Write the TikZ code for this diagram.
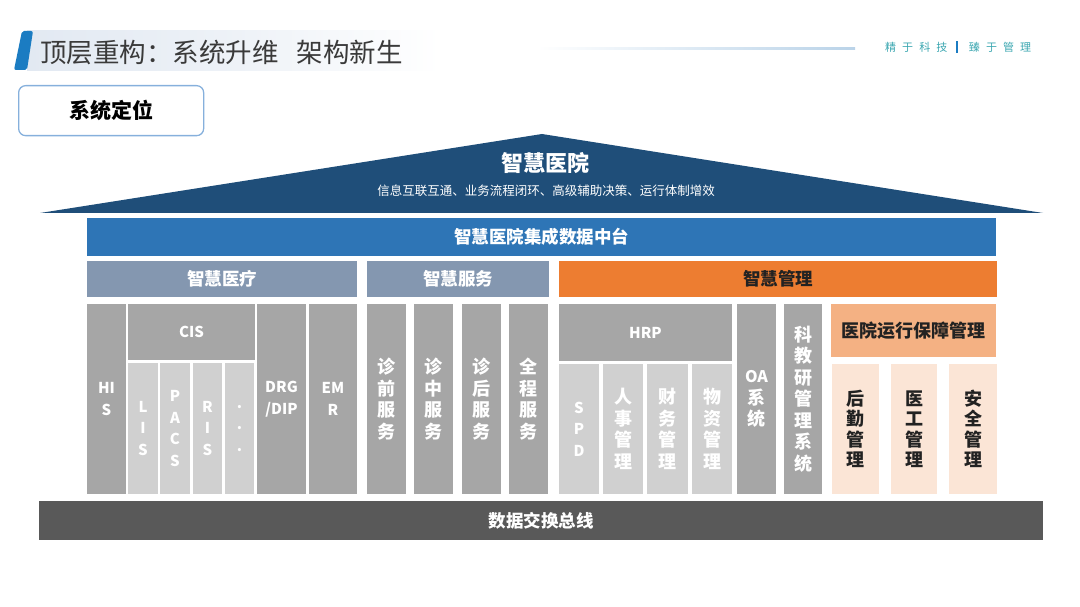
\documentclass[tikz,border=0pt]{standalone}
\usepackage{fontspec}
\setmainfont{Noto Sans CJK SC}
\newfontfamily\tagfont[LetterSpace=55]{Noto Sans CJK SC}
\definecolor{roofblue}{HTML}{1F4E79}
\definecolor{midblue}{HTML}{2E75B6}
\definecolor{headgray}{HTML}{8497B0}
\definecolor{mgorange}{HTML}{ED7D31}
\definecolor{boxgray}{HTML}{A6A6A6}
\definecolor{lightbox}{HTML}{D0D0D0}
\definecolor{peach}{HTML}{F4B183}
\definecolor{lightpeach}{HTML}{FBE5D6}
\definecolor{busgray}{HTML}{595959}
\definecolor{titlegray}{HTML}{3A3A3A}
\definecolor{tagteal}{HTML}{3AA6B0}
\definecolor{barblue}{HTML}{1B7CC2}
\definecolor{bandblue}{HTML}{E2E9F2}
\definecolor{frameblue}{HTML}{86B0DC}
\definecolor{inkdark}{HTML}{222222}

\begin{document}
\begin{tikzpicture}[x=1pt,y=-1pt,
  blk/.style={anchor=north west,inner sep=0pt,outer sep=0pt,align=center,text=white,font=\bfseries\fontsize{18}{21.5}\selectfont},
  lat/.style={font=\bfseries\fontsize{15}{21.5}\selectfont},
  dk/.style={blk,fill=boxgray},
  lt/.style={blk,fill=lightbox},
  bar/.style={blk,font=\bfseries\fontsize{17.5}{20}\selectfont}]
\useasboundingbox (0,0) rectangle (1080,607);
\shade[left color=bandblue,right color=white,middle color=bandblue!60] (27,31) rectangle (440,71);
\fill[barblue,rounded corners=2pt] (22,31) -- (33,31) -- (27,70) -- (14,70) -- cycle;
\node[anchor=west,inner sep=0pt,text=titlegray,font=\fontsize{26.5}{30}\selectfont] (title) at (40,52) {顶层重构：系统升维\hspace{18pt}架构新生};
\shade[left color=white,right color=bandblue!80!barblue] (537,48) rectangle (855,50);
\node[anchor=west,inner sep=0pt,text=tagteal,font=\tagfont\fontsize{11}{13}\selectfont] (tag) at (885,47) {精于科技\hspace{9pt}\textcolor{barblue}{\rule[-1.5pt]{1.6pt}{11.5pt}}\hspace{11pt}臻于管理};
\node[anchor=north west,draw=frameblue,line width=1.3pt,rounded corners=7pt,minimum width=185,minimum height=50,font=\bfseries\fontsize{21}{24}\selectfont] (dw) at (18,85) {系统定位};

\coordinate (L) at (40,213); \coordinate (T) at (542,134); \coordinate (R) at (1043,213);
\fill[roofblue] (L)--(T)--(R)--cycle;
\node[text=white,font=\bfseries\fontsize{22}{24}\selectfont] (roof) at (545,163) {智慧医院};
\node[text=white,font=\fontsize{12.5}{14}\selectfont] (roofsub) at (546,191) {信息互联互通、业务流程闭环、高级辅助决策、运行体制增效};

\node[bar,fill=midblue,minimum width=909,minimum height=38] (zt) at (87,218) {智慧医院集成数据中台};
\node[bar,fill=headgray,minimum width=270,minimum height=36] (ylh) at (87,261) {智慧医疗};
\node[bar,fill=headgray,minimum width=182,minimum height=36] (fwh) at (367,261) {智慧服务};
\node[bar,fill=mgorange,text=inkdark,minimum width=438,minimum height=36] (glh) at (559,261) {智慧管理};

\foreach \nm/\x/\w/\txt in {his/87/39/{HI\\S},drg/257/49/{DRG\\/DIP},emr/309/48/{EM\\R}}
  \node[dk,lat,minimum width=\w,minimum height=190] (\nm) at (\x,304) {\txt};
\foreach \nm/\x/\w/\txt in {zq/367/39/{诊\\前\\服\\务},zz/414/39/{诊\\中\\服\\务},zh/462/39/{诊\\后\\服\\务},qc/509/39/{全\\程\\服\\务},kjy/784/38/{科\\教\\研\\管\\理\\系\\统}}
  \node[dk,minimum width=\w,minimum height=190] (\nm) at (\x,304) {\txt};
\node[dk,minimum width=39,minimum height=190] (oa) at (737,304) {{\fontsize{16}{21.5}\selectfont OA}\\系\\统};
\node[dk,lat,minimum width=127,minimum height=56] (cis) at (128,304) {CIS};
\node[dk,lat,minimum width=173,minimum height=57] (hrp) at (559,304) {HRP};

\foreach \nm/\x/\w/\txt in {lis/128/30/{L\\I\\S},pacs/160/30/{P\\A\\C\\S},ris/193/29/{R\\I\\S},etc/225/29/{.\\.\\.}}
  \node[lt,lat,minimum width=\w,minimum height=131] (\nm) at (\x,363) {\txt};
\node[lt,lat,minimum width=40,minimum height=130] (spd) at (559,364) {S\\P\\D};
\foreach \nm/\x/\w/\txt in {rs/603/40/{人\\事\\管\\理},cw/647/41/{财\\务\\管\\理},wz/692/40/{物\\资\\管\\理}}
  \node[lt,minimum width=\w,minimum height=130] (\nm) at (\x,364) {\txt};

\node[blk,fill=peach,text=inkdark,minimum width=165,minimum height=53] (bz) at (831,304) {医院运行保障管理};
\foreach \nm/\x/\w/\txt in {hq/832/47/{后\\勤\\管\\理},yg/891/46/{医\\工\\管\\理},aq/949/48/{安\\全\\管\\理}}
  \node[blk,fill=lightpeach,text=inkdark,minimum width=\w,minimum height=130,font=\bfseries\fontsize{18}{20.5}\selectfont] (\nm) at (\x,364) {\txt};

\node[bar,fill=busgray,minimum width=1004,minimum height=39] (bus) at (39,501) {数据交换总线};
\end{tikzpicture}
\end{document}
